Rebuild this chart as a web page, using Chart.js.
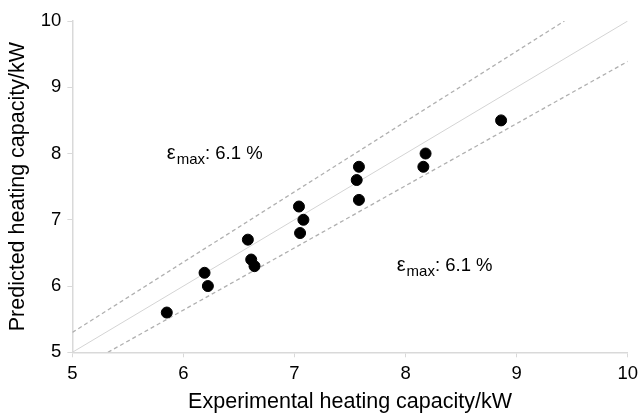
<!DOCTYPE html>
<html>
<head>
<meta charset="utf-8">
<script src="https://cdn.jsdelivr.net/npm/chart.js@4"></script>
<style>
  html, body { margin: 0; padding: 0; background: #fff; }
  #wrap { width: 644px; height: 415px; }
</style>
</head>
<body>
<div id="wrap"><canvas id="myChart"></canvas></div>
<script>
// measured points (experimental, predicted) in kW
const experimental = [5.85, 6.19, 6.22, 6.58, 6.61, 6.64, 7.04, 7.08, 7.05, 7.58, 7.56, 7.58, 8.18, 8.16, 8.86];
const predicted    = [5.6,  6.2,  6.0,  6.7,  6.4,  6.3,  7.2,  7.0,  6.8,  7.8,  7.6,  7.3,  8.0,  7.8,  8.5];

// reference lines
const perfectX = [5, 10];
const perfectY = [5, 10];
const upperX = [5, 9.43];
const upperY = [5.3, 10];
const lowerX = [5.32, 10];
const lowerY = [5, 9.39];

// annotation labels
const labelText = ["6.1 %", "6.1 %"];
const labelX = [5.85, 7.92];
const labelY = [8.0, 6.3];

const FONT = "'Liberation Sans', Arial, Helvetica, sans-serif";

function toPoints(xs, ys) {
    return xs.map((x, i) => ({ x: x, y: ys[i] }));
}

const epsLabels = {
    id: "epsLabels",
    afterDatasetsDraw(chart) {
        const ctx = chart.ctx;
        const sx = chart.scales.x, sy = chart.scales.y;
        ctx.save();
        ctx.fillStyle = "#000";
        ctx.textBaseline = "alphabetic";
        labelText.forEach((t, i) => {
            let px = sx.getPixelForValue(labelX[i]);
            const py = sy.getPixelForValue(labelY[i]) + 5;
            ctx.font = "20px " + FONT;
            ctx.fillText("\u03b5", px, py);
            px += ctx.measureText("\u03b5").width + 1;
            ctx.font = "15px " + FONT;
            ctx.fillText("max", px, py + 5);
            px += ctx.measureText("max").width;
            ctx.font = "18.5px " + FONT;
            ctx.fillText(": " + t, px, py);
        });
        ctx.restore();
    }
};

const ctx = document.getElementById("myChart").getContext("2d");

new Chart(ctx, {
    type: "scatter",
    data: {
        datasets: [
            {
                label: "Data",
                data: toPoints(experimental, predicted),
                backgroundColor: "#000",
                borderColor: "#000",
                pointRadius: 5.5,
                order: 0
            },
            {
                label: "Perfect",
                data: toPoints(perfectX, perfectY),
                showLine: true,
                borderColor: "#d4d4d4",
                borderWidth: 1,
                pointRadius: 0,
                order: 1
            },
            {
                label: "Upper",
                data: toPoints(upperX, upperY),
                showLine: true,
                borderColor: "#b0b0b0",
                borderWidth: 1.3,
                borderDash: [4, 3],
                pointRadius: 0,
                order: 1
            },
            {
                label: "Lower",
                data: toPoints(lowerX, lowerY),
                showLine: true,
                borderColor: "#b0b0b0",
                borderWidth: 1.3,
                borderDash: [4, 3],
                pointRadius: 0,
                order: 1
            }
        ]
    },
    options: {
        responsive: true,
        maintainAspectRatio: false,
        animation: false,
        layout: { padding: { top: 21, right: 3, left: 5, bottom: 0 } },
        plugins: {
            legend: { display: false },
            tooltip: { enabled: false }
        },
        scales: {
            x: {
                type: "linear",
                min: 5,
                max: 10,
                ticks: { stepSize: 1, color: "#000", font: { family: FONT, size: 18.5 }, padding: 6 },
                grid: { drawOnChartArea: false, color: "#d9d9d9", tickLength: 5, lineWidth: 1 },
                border: { color: "#d9d9d9", width: 1.5 },
                title: { display: true, text: "Experimental heating capacity/kW", color: "#000",
                         font: { family: FONT, size: 21.5, lineHeight: 1 }, padding: { top: 0, bottom: 2 } }
            },
            y: {
                type: "linear",
                min: 5,
                max: 10,
                ticks: { stepSize: 1, color: "#000", font: { family: FONT, size: 18.5 }, padding: 6 },
                grid: { drawOnChartArea: false, color: "#d9d9d9", tickLength: 5, lineWidth: 1 },
                border: { color: "#d9d9d9", width: 1.5 },
                title: { display: true, text: "Predicted heating capacity/kW", color: "#000",
                         font: { family: FONT, size: 21.5 }, padding: { top: 0, bottom: 4 } }
            }
        }
    },
    plugins: [epsLabels]
});
</script>
</body>
</html>
